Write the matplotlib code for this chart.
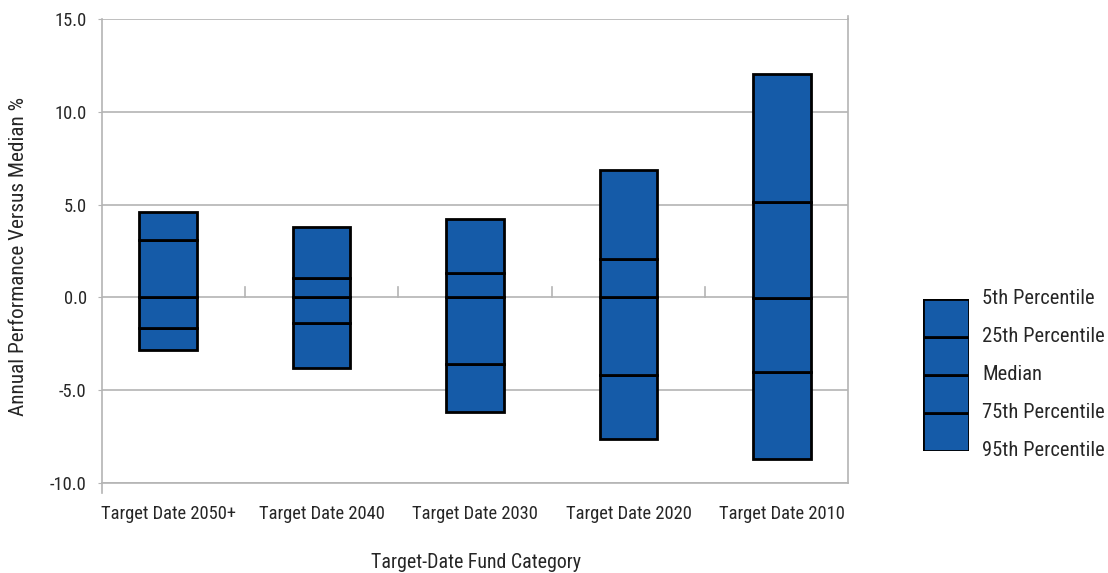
import matplotlib
matplotlib.use("Agg")
import matplotlib.pyplot as plt
from matplotlib import font_manager
import numpy as np

categories = ['Target Date 2050+', 'Target Date 2040', 'Target Date 2030',
              'Target Date 2020', 'Target Date 2010']
p5 = [4.6, 3.8, 4.22, 6.86, 12.04]
p25 = [3.1, 1.04, 1.33, 2.05, 5.12]
p50 = [0.0, 0.0, 0.0, 0.0, -0.05]
p75 = [-1.67, -1.40, -3.58, -4.17, -4.01]
p95 = [-2.86, -3.81, -6.20, -7.62, -8.68]
legend_labels = ['5th Percentile', '25th Percentile', 'Median',
                 '75th Percentile', '95th Percentile']
yticks = [-10, -5, 0, 5, 10, 15]

# pick a narrow font if there is one
names = {f.name for f in font_manager.fontManager.ttflist}
font = 'DejaVu Sans'
for cand in ['Roboto Condensed', 'Liberation Sans Narrow', 'Open Sans Condensed', 'Arial Narrow']:
    if cand in names:
        font = cand
        break
plt.rcParams['font.family'] = [font, 'DejaVu Sans']
plt.rcParams['font.stretch'] = 'condensed'
k = 1.0 if font != 'DejaVu Sans' else 0.85
fs_tick = 13.3 * k
fs_xlab = 14.3 * k
fs_leg = 14.8 * k
fs_ylab = 15.3 * k

blue = '#155ba8'
grid = '#b4b4b4'
txt = '#262626'

fig = plt.figure(figsize=(11.08, 5.73), dpi=100)
ax = fig.add_axes([102/1108, 1-483/573, 746/1108, 464/573])

x = np.arange(len(categories))
lo = np.array(p95); q3 = np.array(p75); md = np.array(p50); q1 = np.array(p25); hi = np.array(p5)
for b, t in [(lo, q3), (q3, md), (md, q1), (q1, hi)]:
    ax.bar(x, t - b, bottom=b, width=0.377, color=blue, edgecolor='black', linewidth=2.0, zorder=3)

ax.set_xlim(-0.43, len(categories) - 1 + 0.43)
ax.set_ylim(-10, 15)
ax.set_yticks(yticks)
ax.set_yticklabels([f'{v:.1f}' for v in yticks], fontsize=fs_tick, color=txt)
ax.yaxis.grid(True, color=grid, linewidth=1.2, zorder=0)
ax.tick_params(axis='y', length=3, color=grid, pad=8)

ax.set_xticks(x)
ax.set_xticklabels(categories, fontsize=fs_tick, color=txt)
ax.tick_params(axis='x', length=0, pad=16)

# category divider ticks on the zero line
for bnd in x[:-1] + 0.5:
    ax.plot([bnd, bnd], [0, 0.55], color=grid, linewidth=1.2, zorder=1)

for s in ['left', 'right', 'bottom']:
    ax.spines[s].set_color(grid)
    ax.spines[s].set_linewidth(1.2)
ax.spines['top'].set_visible(False)
ax.plot([0, 0], [0, -10/464], transform=ax.transAxes, color=grid, linewidth=1.2, clip_on=False)
ax.plot([1, 1], [1, 1 + 3/464], transform=ax.transAxes, color=grid, linewidth=1.2, clip_on=False)

fig.text(19/1108, 1-256/573, 'Annual Performance Versus Median %', fontsize=fs_ylab, color=txt,
         rotation=90, ha='center', va='center')
fig.text(476/1108, 1-563/573, 'Target-Date Fund Category', fontsize=fs_xlab, color=txt,
         ha='center', va='center')

# legend drawn as a small stacked bar
lax = fig.add_axes([923/1108, 1-451/573, 46/1108, 152/573])
for i in range(4):
    lax.bar(0.5, 1, bottom=i, width=1, color=blue, edgecolor='black', linewidth=2.0)
lax.set_xlim(0, 1)
lax.set_ylim(0, 4)
lax.axis('off')
for i, lab in enumerate(legend_labels):
    yy = 1 - (299 + i * 38) / 573
    fig.text(982/1108, yy, lab, fontsize=fs_leg, color=txt, ha='left', va='center')

fig.savefig('out.png', dpi=100)
